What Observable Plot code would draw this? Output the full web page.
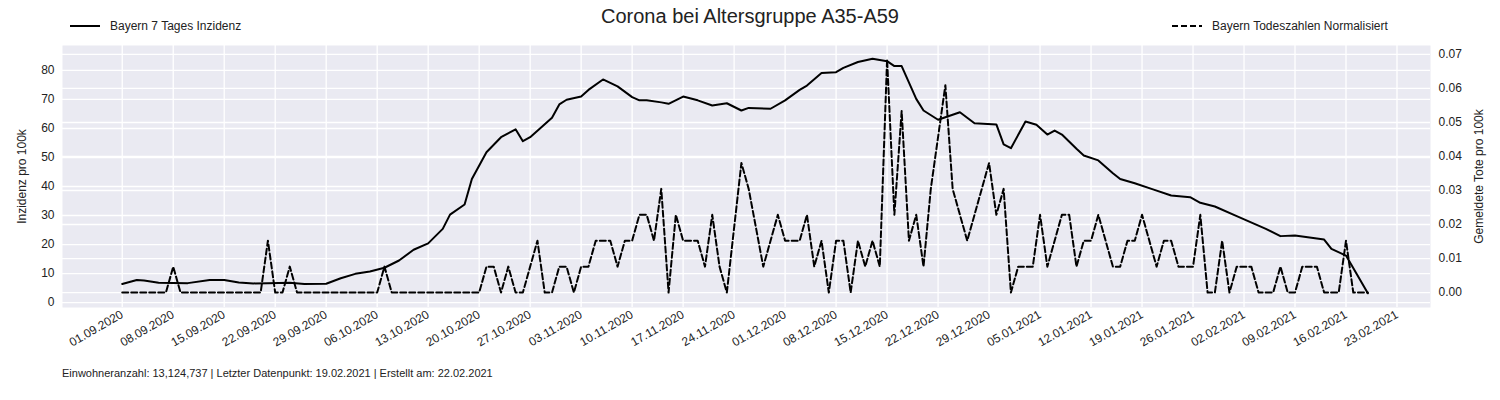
<!DOCTYPE html>
<html>
<head>
<meta charset="utf-8">
<script src="https://cdn.jsdelivr.net/npm/d3@7"></script>
<script src="https://cdn.jsdelivr.net/npm/@observablehq/plot@0.6"></script>
<style>
  body { margin: 0; background: white; font-family: "Liberation Sans", Arial, sans-serif; }
  #wrap { position: relative; width: 1500px; height: 400px; }
  #title { position: absolute; top: 5px; left: 0; width: 1500px; text-align: center; font-size: 20px; color: #222; }
  .leg { position: absolute; top: 19px; font-size: 12px; color: #222; display: flex; align-items: center; }
  .leg svg { margin-right: 10px; }
  #chart { position: absolute; top: 40px; left: 0; }
  #foot { position: absolute; top: 367px; left: 62px; font-size: 11px; color: #222; }
</style>
</head>
<body>
<div id="wrap">
  <div id="title">Corona bei Altersgruppe A35-A59</div>
  <div class="leg" style="left:70px"><svg width="30" height="4"><line x1="0" x2="30" y1="2" y2="2" stroke="black" stroke-width="2"/></svg>Bayern 7 Tages Inzidenz</div>
  <div class="leg" style="left:1172px"><svg width="30" height="4"><line x1="0" x2="30" y1="2" y2="2" stroke="black" stroke-width="2" stroke-dasharray="6,3"/></svg>Bayern Todeszahlen Normalisiert</div>
  <div id="chart"></div>
  <div id="foot">Einwohneranzahl: 13,124,737 | Letzter Datenpunkt: 19.02.2021 | Erstellt am: 22.02.2021</div>
</div>
<script>
// Tage seit 01.09.2020
const incDays = [0,2,3,5,9,12,14,16,18,20,23,25,28,30,32,34,36,38,40,42,44,45,47,48,50,52,54,55,56,59,60,61,63,64,66,68,70,71,72,74,75,77,79,81,83,85,86,89,91,93,94,96,98,99,101,103,105,106,107,109,110,112,115,117,120,121,122,124,125.5,127,128,129,131,132,134,136,137,139,141.5,144,146.6,148,150,153,157,159,161,165,166,168,171]
const incVals = [6.4,7.8,7.6,6.8,6.7,7.8,7.8,6.9,6.6,6.7,6.8,6.4,6.5,8.4,9.9,10.7,12,14.5,18.2,20.4,25.4,30.3,33.8,42.6,51.8,57,59.7,55.6,57,63.7,68.3,69.9,71,73.3,76.9,74.5,70.8,69.7,69.7,69,68.5,71,69.7,67.9,68.7,66.2,67.1,66.8,69.7,73.3,74.8,79.1,79.4,80.9,82.9,84,83.2,81.5,81.5,70.2,66.2,63,65.6,61.8,61.4,54.5,53.2,62.4,61.3,57.9,59.3,57.9,53,50.7,49,44.6,42.6,41.1,39,36.9,36.3,34.4,33.1,29.8,25.4,22.9,23.1,21.7,18.5,16.2,3.2]

const deathUnit = 0.00762
const deathDays = [0,6,7,8,19,20,21,22,23,24,35,36,37,49,50,51,52,53,54,55,57,58,59,60,61,62,63,64,65,67,68,69,70,71,72,73,74,75,76,77,79,80,81,82,83,85,86,88,89,90,91,93,94,95,96,97,98,99,100,101,102,103,104,105,106,107,108,109,110,111,113,114,115,116,119,120,121,122,123,125,126,127,128,129,130,131,132,133,134,135,136,137,138,139,140,142,143,144,145,147,148,149,150,151,152,153,155,156,158,159,160,161,162,164,165,167,168,169,171]
const deathLvl  = [0,0,1,0,0,2,0,0,1,0,0,1,0,0,1,1,0,1,0,0,2,0,0,1,1,0,1,1,2,2,1,2,2,3,3,2,4,0,3,2,2,1,3,1,0,5,4,1,2,3,2,2,3,1,2,0,2,2,0,2,1,2,1,9,3,7,2,3,1,4,8,4,3,2,5,3,4,0,1,1,3,1,2,3,3,1,2,2,3,2,1,1,2,2,3,1,2,2,1,1,3,0,0,2,0,1,1,0,0,1,0,0,1,1,0,0,2,0,0]

const xTicks = d3.range(0, 176, 7)

const start = Date.UTC(2020, 8, 1)
const day = d => new Date(start + d * 864e5)
const toLeft = v => 3.45 + v * 1172.4
const rightTicks = d3.range(0, 0.0701, 0.01)

const inc = incDays.map((d, i) => ({date: day(d), v: incVals[i]}))
const deaths = deathDays.map((d, i) => ({date: day(d), v: toLeft(deathLvl[i] * deathUnit)}))

const chart = Plot.plot({
  width: 1500,
  height: 320,
  marginTop: 5,
  marginLeft: 62,
  marginRight: 70,
  marginBottom: 53,
  style: {fontFamily: "'Liberation Sans', Arial, sans-serif", fontSize: "12px", color: "#222"},
  x: {type: "utc", domain: [day(-8.2), day(179.6)]},
  y: {domain: [-1.7, 88.6]},
  marks: [
    Plot.frame({fill: "#eaeaf2", stroke: null}),
    Plot.gridY(d3.range(0, 81, 10), {stroke: "white", strokeOpacity: 1, strokeWidth: 1.3}),
    Plot.gridY(rightTicks.map(toLeft), {stroke: "white", strokeOpacity: 1, strokeWidth: 1.3}),
    Plot.gridX(xTicks.map(day), {stroke: "white", strokeOpacity: 1, strokeWidth: 1.3}),
    Plot.axisX(xTicks.map(day), {tickFormat: d3.utcFormat("%d.%m.%Y"), tickRotate: -30, tickSize: 0, tickPadding: 6, label: null, fontSize: 12}),
    Plot.axisY(d3.range(0, 81, 10), {anchor: "left", tickSize: 0, tickPadding: 8, label: "Inzidenz pro 100k", labelAnchor: "center", labelArrow: "none", labelOffset: 45, fontSize: 12}),
    Plot.axisY(rightTicks.map(toLeft), {anchor: "right", tickSize: 0, tickPadding: 8, tickFormat: v => ((v - 3.45) / 1172.4).toFixed(2), label: "Gemeldete Tote pro 100k", labelAnchor: "center", labelArrow: "none", labelOffset: 52, fontSize: 12}),
    Plot.line(inc, {x: "date", y: "v", stroke: "black", strokeWidth: 2}),
    Plot.line(deaths, {x: "date", y: "v", stroke: "black", strokeWidth: 2, strokeDasharray: "6,3"})
  ]
})
document.getElementById("chart").append(chart)
</script>
</body>
</html>
